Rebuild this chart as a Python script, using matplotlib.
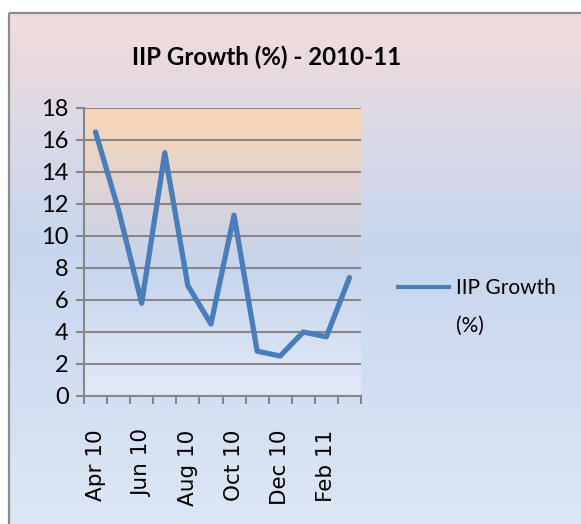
import numpy as np
import matplotlib
matplotlib.use("Agg")
import matplotlib.pyplot as plt
from matplotlib.colors import LinearSegmentedColormap
from matplotlib.lines import Line2D
from matplotlib.patches import Rectangle

months = ["Apr 10", "May 10", "Jun 10", "Jul 10", "Aug 10", "Sep 10",
          "Oct 10", "Nov 10", "Dec 10", "Jan 11", "Feb 11", "Mar 11"]
iip_growth = [16.5, 11.6, 5.8, 15.2, 6.9, 4.5, 11.3, 2.8, 2.5, 4.0, 3.7, 7.4]
series_name = "IIP Growth"
series_name_2 = "(%)"
title = "IIP Growth (%) - 2010-11"
yticks = [0, 2, 4, 6, 8, 10, 12, 14, 16, 18]

W, H = 581, 524
fig = plt.figure(figsize=(W / 100, H / 100), dpi=100)
fig.patch.set_facecolor("white")

# chart-area background gradient
bg = fig.add_axes([0, 0, 1, 1], zorder=-10)
bg.set_xlim(0, W)
bg.set_ylim(H, 0)
bg.axis("off")
cm_bg = LinearSegmentedColormap.from_list(
    "bg", [(0.0, "#F1DCDC"), (0.45, "#C7D6EE"), (1.0, "#DDE6F4")])
grad = np.linspace(0, 1, 256).reshape(-1, 1)
bg.imshow(grad, cmap=cm_bg, aspect="auto", extent=[9, W + 5, H, 13], zorder=0)
bg.add_patch(Rectangle((9, 13), W, H, fill=False, edgecolor="#8C8C8C", lw=1.6, zorder=1))

# plot area
ax = fig.add_axes([84 / W, 128 / H, 277 / W, 288 / H])
cm_pa = LinearSegmentedColormap.from_list(
    "pa", [(0.0, "#FAD6B4"), (0.3, "#DDD3D8"), (0.55, "#C6D5EE"), (1.0, "#E3E9F6")])
ax.set_ylim(0, 18)
ax.set_xlim(-0.5, len(months) - 0.5)
ax.imshow(grad, cmap=cm_pa, aspect="auto", extent=[-0.5, len(months) - 0.5, 0, 18], zorder=0)

ax.set_yticks(yticks)
ax.yaxis.grid(True, color="#878787", lw=1.5, zorder=1)
ax.set_axisbelow(False)

x = np.arange(len(months))
ax.plot(x, iip_growth, color="#4A7EBB", lw=3.8, solid_joinstyle="round",
        solid_capstyle="round", zorder=3)

for s in ["top", "right"]:
    ax.spines[s].set_visible(False)
for s in ["left", "bottom"]:
    ax.spines[s].set_color("#878787")
    ax.spines[s].set_linewidth(1.5)

ax.set_xticks(np.arange(-0.5, len(months), 1.0))
ax.set_xticklabels([])
ax.set_xticks(x[::2], minor=True)
ax.set_xticklabels(months[::2], minor=True, rotation=90, fontsize=15.5,
                   family="DejaVu Sans")
ax.tick_params(axis="x", which="major", length=6, width=1.5, color="#878787", direction="out")
ax.tick_params(axis="x", which="minor", length=0, pad=24)
ax.tick_params(axis="y", length=6, width=1.5, color="#878787", direction="out",
               labelsize=17, pad=5)
for lab in ax.get_yticklabels():
    lab.set_family("Lato")

fig.text(267 / W, 1 - 57 / H, title, ha="center", va="center",
         fontsize=17.3, fontweight="bold", family="Lato")

# legend
handle = Line2D([], [], color="#4A7EBB", lw=3.0)
leg = fig.legend([handle], [series_name], loc="center left",
                 bbox_to_anchor=(392 / W, 1 - 288 / H), frameon=False,
                 prop={"family": "Lato", "size": 15}, handlelength=2.45,
                 handletextpad=0.34, borderaxespad=0, borderpad=0.3)
fig.text(456 / W, 1 - 326 / H, series_name_2, ha="left", va="center",
         fontsize=15, family="Lato")

fig.savefig("out.png", dpi=100)
